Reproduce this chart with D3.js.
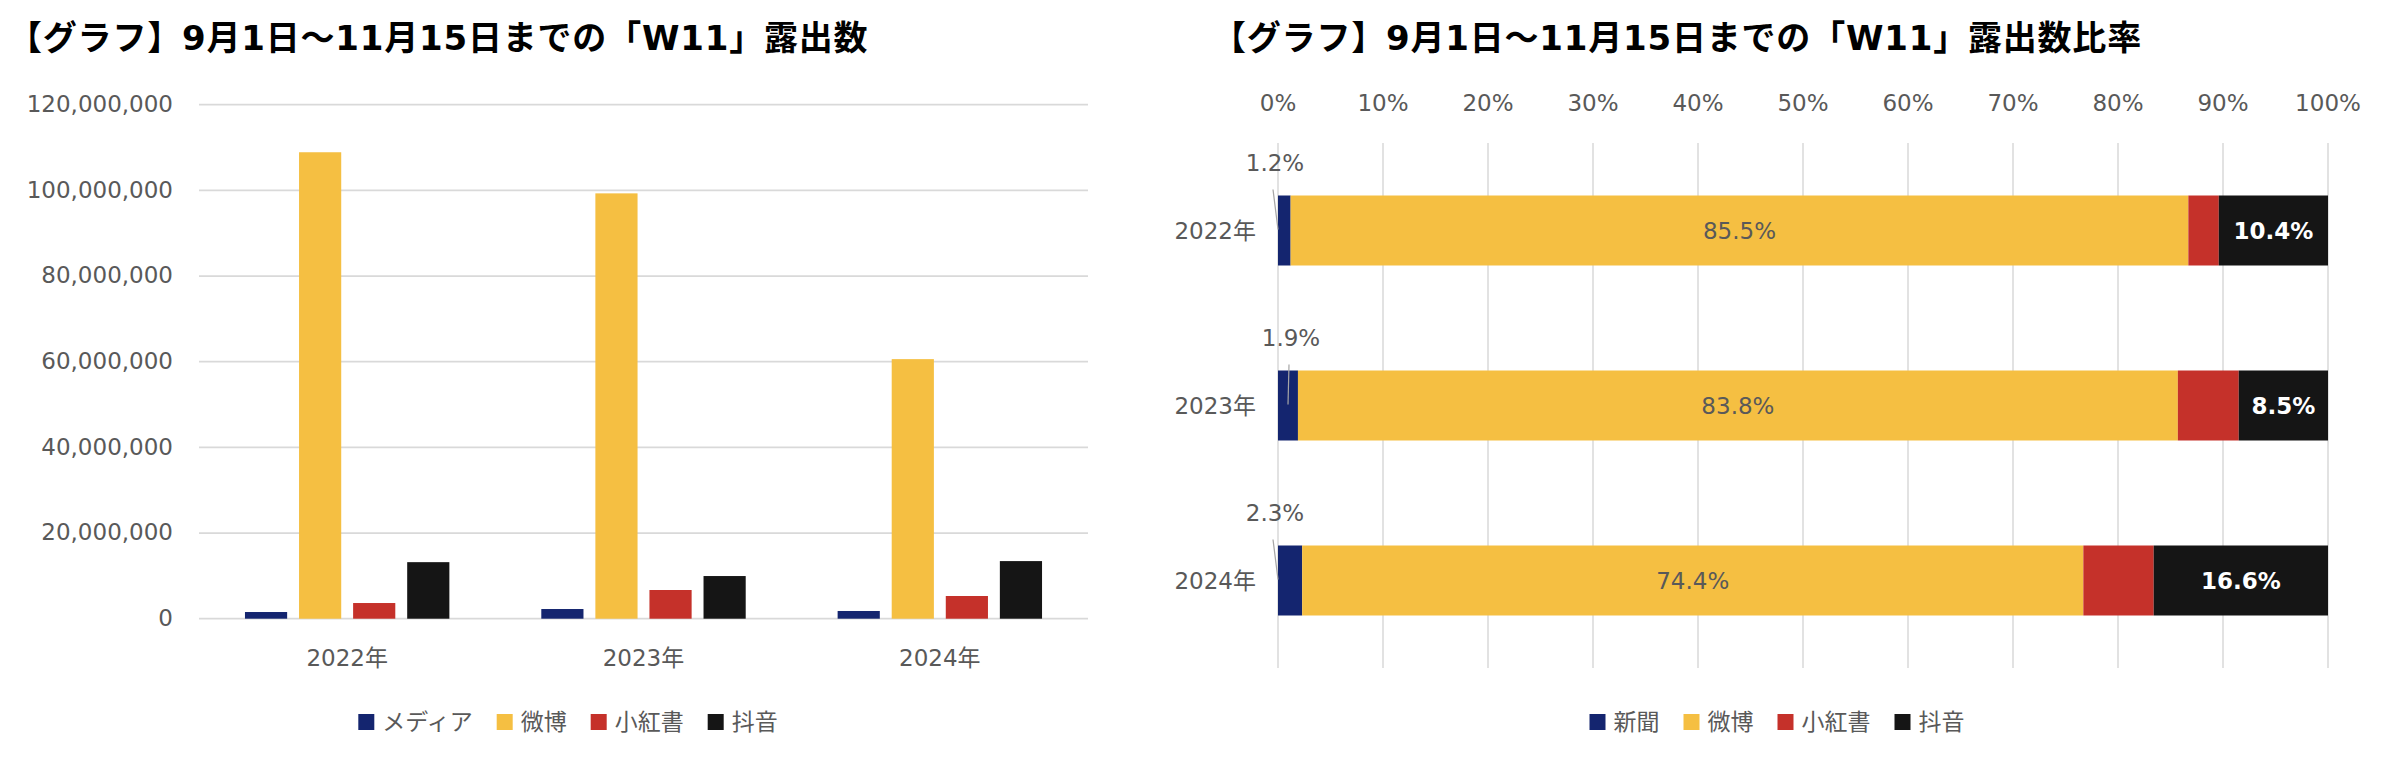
<!DOCTYPE html>
<html>
<head>
<meta charset="utf-8">
<script src="https://cdn.jsdelivr.net/npm/d3@7"></script>
<style>
  body { margin: 0; background: #fff; }
  text { font-family: "DejaVu Sans", "Noto Sans CJK JP", sans-serif; }
</style>
</head>
<body>
<svg id="chart" width="2382" height="760"></svg>
<script>
// data
const years = ["2022年", "2023年", "2024年"];
const seriesLeft = ["メディア", "微博", "小紅書", "抖音"];
const seriesRight = ["新聞", "微博", "小紅書", "抖音"];

// exposure counts (left chart)
const media  = [1560000, 2260000, 1800000];
const weibo  = [108900000, 99300000, 60600000];
const xhs    = [3660000, 6700000, 5300000];
const douyin = [13200000, 9960000, 13450000];
const countTicks = [0, 20000000, 40000000, 60000000, 80000000, 100000000, 120000000];

// share in % (right chart)
const shareNews   = [1.2, 1.9, 2.3];
const shareWeibo  = [85.5, 83.8, 74.4];
const shareXhs    = [2.9, 5.8, 6.7];
const shareDouyin = [10.4, 8.5, 16.6];
const pctTicks = [0, 10, 20, 30, 40, 50, 60, 70, 80, 90, 100];

const colors = ["#14256F", "#F5BF42", "#C5312A", "#151515"];
const textGray = "#595959";
const gridGray = "#d9d9d9";

const svg = d3.select("#chart");

// ---------- left chart: grouped bars ----------
const left = svg.append("g");

left.append("text")
  .attr("x", 8).attr("y", 50)
  .attr("font-size", 34).attr("font-weight", "bold")
  .attr("letter-spacing", "0.8px")
  .attr("fill", "#000")
  .text("【グラフ】9月1日～11月15日までの「W11」露出数");

const y = d3.scaleLinear().domain([0, 120000000]).range([618.7, 104.7]);
const x0 = d3.scaleBand().domain(years).range([199, 1088]).paddingInner(0).paddingOuter(0);
const x1 = d3.scaleBand().domain(seriesLeft).range([0, x0.bandwidth()])
  .paddingInner(0.22).paddingOuter(0.85);

// gridlines
left.selectAll("line.grid").data(countTicks).join("line")
  .attr("x1", 199).attr("x2", 1088)
  .attr("y1", d => y(d)).attr("y2", d => y(d))
  .attr("stroke", gridGray).attr("stroke-width", 1.75);

// y labels
left.selectAll("text.ylab").data(countTicks).join("text")
  .attr("x", 173).attr("y", d => y(d))
  .attr("dy", "0.32em")
  .attr("text-anchor", "end")
  .attr("font-size", 23).attr("fill", textGray)
  .text(d => d3.format(",")(d));

const countRows = years.map((yr, i) => ({
  year: yr,
  vals: [media[i], weibo[i], xhs[i], douyin[i]]
}));

const groups = left.selectAll("g.grp").data(countRows).join("g")
  .attr("transform", d => `translate(${x0(d.year)},0)`);

groups.selectAll("rect").data(d => d.vals.map((v, k) => ({ s: seriesLeft[k], v, k })))
  .join("rect")
  .attr("x", d => x1(d.s))
  .attr("width", x1.bandwidth())
  .attr("y", d => y(d.v))
  .attr("height", d => y(0) - y(d.v))
  .attr("fill", d => colors[d.k]);

// x labels
left.selectAll("text.xlab").data(years).join("text")
  .attr("x", d => x0(d) + x0.bandwidth() / 2)
  .attr("y", 666)
  .attr("text-anchor", "middle")
  .attr("font-size", 23).attr("fill", textGray)
  .text(d => d);

// legend helper
function legend(g, names, cx, cy) {
  const items = g.append("g");
  let pos = 0;
  names.forEach((n, k) => {
    const it = items.append("g").attr("transform", `translate(${pos},0)`);
    it.append("rect").attr("x", 0).attr("y", cy - 8).attr("width", 16).attr("height", 16)
      .attr("fill", colors[k]);
    const t = it.append("text").attr("x", 24).attr("y", cy).attr("dy", "0.36em")
      .attr("font-size", 23).attr("fill", textGray).text(n);
    pos += 24 + t.node().getComputedTextLength() + 24;
  });
  const total = pos - 24;
  items.attr("transform", `translate(${cx - total / 2},0)`);
}
legend(left, seriesLeft, 568, 722);

// ---------- right chart: 100% stacked bars ----------
const right = svg.append("g");

right.append("text")
  .attr("x", 1212).attr("y", 50)
  .attr("font-size", 34).attr("font-weight", "bold")
  .attr("letter-spacing", "0.8px")
  .attr("fill", "#000")
  .text("【グラフ】9月1日～11月15日までの「W11」露出数比率");

const px = d3.scaleLinear().domain([0, 100]).range([1278, 2328]);
const py = d3.scaleBand().domain(years).range([143, 668]).paddingInner(0.6).paddingOuter(0.3);

right.selectAll("line.vgrid").data(pctTicks).join("line")
  .attr("x1", d => px(d)).attr("x2", d => px(d))
  .attr("y1", 143).attr("y2", 668)
  .attr("stroke", gridGray).attr("stroke-width", 1.5);

right.selectAll("text.plab").data(pctTicks).join("text")
  .attr("x", d => px(d)).attr("y", 111)
  .attr("text-anchor", "middle")
  .attr("font-size", 23).attr("fill", textGray)
  .text(d => d + "%");

right.selectAll("text.ylab").data(years).join("text")
  .attr("x", 1256).attr("y", d => py(d) + py.bandwidth() / 2)
  .attr("dy", "0.36em")
  .attr("text-anchor", "end")
  .attr("font-size", 23).attr("fill", textGray)
  .text(d => d);

const shareRows = years.map((yr, i) => {
  const vals = [shareNews[i], shareWeibo[i], shareXhs[i], shareDouyin[i]];
  let acc = 0;
  return {
    year: yr,
    segs: vals.map((v, k) => { const s = { k, v, x0: acc, x1: acc + v }; acc += v; return s; })
  };
});

const rows = right.selectAll("g.row").data(shareRows).join("g");

rows.selectAll("rect").data(d => d.segs.map(s => ({ ...s, year: d.year })))
  .join("rect")
  .attr("x", d => px(d.x0))
  .attr("width", d => px(d.x1) - px(d.x0))
  .attr("y", d => py(d.year))
  .attr("height", py.bandwidth())
  .attr("fill", d => colors[d.k]);

// weibo labels inside
rows.append("text")
  .attr("x", d => px((d.segs[1].x0 + d.segs[1].x1) / 2))
  .attr("y", d => py(d.year) + py.bandwidth() / 2)
  .attr("dy", "0.36em")
  .attr("text-anchor", "middle")
  .attr("font-size", 23).attr("fill", textGray)
  .text(d => d.segs[1].v.toFixed(1) + "%");

// douyin labels, bold white
rows.append("text")
  .attr("x", d => px((d.segs[3].x0 + d.segs[3].x1) / 2))
  .attr("y", d => py(d.year) + py.bandwidth() / 2)
  .attr("dy", "0.36em")
  .attr("text-anchor", "middle")
  .attr("font-size", 23).attr("font-weight", "bold").attr("fill", "#fff")
  .text(d => d.segs[3].v.toFixed(1) + "%");

// news labels above the bar with leader line
const labelDx = [-3, 13, -3];
rows.append("line")
  .attr("x1", (d, i) => px(0) + labelDx[i] - 2)
  .attr("x2", (d, i) => px(0) + (i === 1 ? 10 : 0))
  .attr("y1", d => py(d.year) - 6)
  .attr("y2", d => py(d.year) + py.bandwidth() / 2 - 1)
  .attr("stroke", "#a6a6a6").attr("stroke-width", 1.2);

rows.append("text")
  .attr("x", (d, i) => px(0) + labelDx[i])
  .attr("y", d => py(d.year) - 25)
  .attr("text-anchor", "middle")
  .attr("font-size", 23).attr("fill", textGray)
  .text(d => d.segs[0].v.toFixed(1) + "%");

legend(right, seriesRight, 1777, 722);
</script>
</body>
</html>
